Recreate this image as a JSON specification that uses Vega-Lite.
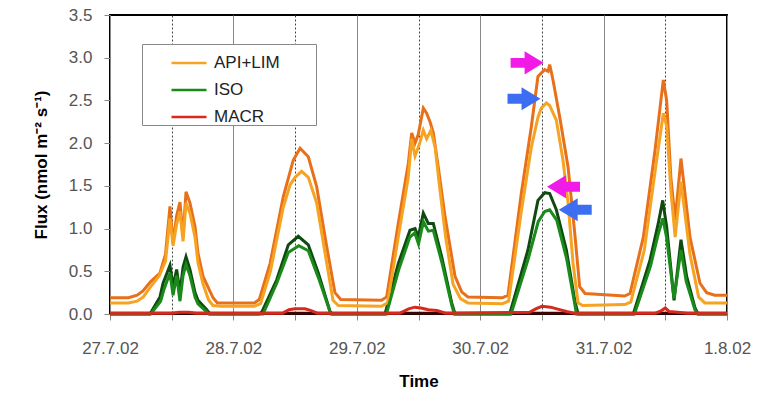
{
"$schema": "https://vega.github.io/schema/vega-lite/v6.json",
"width": 617, "height": 299,
"autosize": "none",
"padding": {"left": 110, "top": 15, "right": 42, "bottom": 82},
"config": {"font": "Liberation Sans", "view": {"stroke": "black", "strokeWidth": 2}},
"datasets": {
"lines": [
{"t":0,"v":0.13,"c":"API+LIM","k":"light"},{"t":0.15,"v":0.13,"c":"API+LIM","k":"light"},{"t":0.22,"v":0.15,"c":"API+LIM","k":"light"},{"t":0.27,"v":0.2,"c":"API+LIM","k":"light"},{"t":0.33,"v":0.32,"c":"API+LIM","k":"light"},{"t":0.40,"v":0.45,"c":"API+LIM","k":"light"},{"t":0.45,"v":0.62,"c":"API+LIM","k":"light"},{"t":0.486,"v":1.12,"c":"API+LIM","k":"light"},{"t":0.511,"v":0.8,"c":"API+LIM","k":"light"},{"t":0.54,"v":1.05,"c":"API+LIM","k":"light"},{"t":0.567,"v":1.2,"c":"API+LIM","k":"light"},{"t":0.592,"v":0.85,"c":"API+LIM","k":"light"},{"t":0.616,"v":1.3,"c":"API+LIM","k":"light"},{"t":0.648,"v":1.18,"c":"API+LIM","k":"light"},{"t":0.689,"v":0.9,"c":"API+LIM","k":"light"},{"t":0.713,"v":0.6,"c":"API+LIM","k":"light"},{"t":0.754,"v":0.35,"c":"API+LIM","k":"light"},{"t":0.80,"v":0.16,"c":"API+LIM","k":"light"},{"t":0.835,"v":0.1,"c":"API+LIM","k":"light"},{"t":0.9,"v":0.09,"c":"API+LIM","k":"light"},{"t":1.17,"v":0.09,"c":"API+LIM","k":"light"},{"t":1.22,"v":0.12,"c":"API+LIM","k":"light"},{"t":1.30,"v":0.5,"c":"API+LIM","k":"light"},{"t":1.404,"v":1.25,"c":"API+LIM","k":"light"},{"t":1.459,"v":1.51,"c":"API+LIM","k":"light"},{"t":1.50,"v":1.6,"c":"API+LIM","k":"light"},{"t":1.553,"v":1.67,"c":"API+LIM","k":"light"},{"t":1.607,"v":1.6,"c":"API+LIM","k":"light"},{"t":1.675,"v":1.3,"c":"API+LIM","k":"light"},{"t":1.756,"v":0.6,"c":"API+LIM","k":"light"},{"t":1.807,"v":0.16,"c":"API+LIM","k":"light"},{"t":1.85,"v":0.1,"c":"API+LIM","k":"light"},{"t":2.2,"v":0.09,"c":"API+LIM","k":"light"},{"t":2.25,"v":0.13,"c":"API+LIM","k":"light"},{"t":2.336,"v":0.9,"c":"API+LIM","k":"light"},{"t":2.417,"v":1.6,"c":"API+LIM","k":"light"},{"t":2.445,"v":2.05,"c":"API+LIM","k":"light"},{"t":2.472,"v":1.85,"c":"API+LIM","k":"light"},{"t":2.51,"v":2.0,"c":"API+LIM","k":"light"},{"t":2.539,"v":2.15,"c":"API+LIM","k":"light"},{"t":2.566,"v":2.05,"c":"API+LIM","k":"light"},{"t":2.60,"v":2.15,"c":"API+LIM","k":"light"},{"t":2.635,"v":1.95,"c":"API+LIM","k":"light"},{"t":2.67,"v":1.5,"c":"API+LIM","k":"light"},{"t":2.72,"v":0.9,"c":"API+LIM","k":"light"},{"t":2.78,"v":0.35,"c":"API+LIM","k":"light"},{"t":2.84,"v":0.18,"c":"API+LIM","k":"light"},{"t":2.9,"v":0.13,"c":"API+LIM","k":"light"},{"t":3.18,"v":0.12,"c":"API+LIM","k":"light"},{"t":3.23,"v":0.15,"c":"API+LIM","k":"light"},{"t":3.333,"v":1.2,"c":"API+LIM","k":"light"},{"t":3.414,"v":1.95,"c":"API+LIM","k":"light"},{"t":3.468,"v":2.3,"c":"API+LIM","k":"light"},{"t":3.495,"v":2.41,"c":"API+LIM","k":"light"},{"t":3.536,"v":2.47,"c":"API+LIM","k":"light"},{"t":3.563,"v":2.44,"c":"API+LIM","k":"light"},{"t":3.617,"v":2.27,"c":"API+LIM","k":"light"},{"t":3.671,"v":1.8,"c":"API+LIM","k":"light"},{"t":3.712,"v":1.3,"c":"API+LIM","k":"light"},{"t":3.752,"v":0.6,"c":"API+LIM","k":"light"},{"t":3.793,"v":0.13,"c":"API+LIM","k":"light"},{"t":3.83,"v":0.1,"c":"API+LIM","k":"light"},{"t":4.17,"v":0.11,"c":"API+LIM","k":"light"},{"t":4.22,"v":0.14,"c":"API+LIM","k":"light"},{"t":4.33,"v":0.75,"c":"API+LIM","k":"light"},{"t":4.42,"v":1.7,"c":"API+LIM","k":"light"},{"t":4.484,"v":2.35,"c":"API+LIM","k":"light"},{"t":4.511,"v":2.2,"c":"API+LIM","k":"light"},{"t":4.545,"v":1.45,"c":"API+LIM","k":"light"},{"t":4.58,"v":0.9,"c":"API+LIM","k":"light"},{"t":4.627,"v":1.55,"c":"API+LIM","k":"light"},{"t":4.70,"v":0.7,"c":"API+LIM","k":"light"},{"t":4.77,"v":0.2,"c":"API+LIM","k":"light"},{"t":4.82,"v":0.13,"c":"API+LIM","k":"light"},{"t":5.0,"v":0.13,"c":"API+LIM","k":"light"},

{"t":0,"v":0.19,"c":"API+LIM","k":"dark"},{"t":0.15,"v":0.19,"c":"API+LIM","k":"dark"},{"t":0.22,"v":0.22,"c":"API+LIM","k":"dark"},{"t":0.267,"v":0.27,"c":"API+LIM","k":"dark"},{"t":0.33,"v":0.38,"c":"API+LIM","k":"dark"},{"t":0.405,"v":0.48,"c":"API+LIM","k":"dark"},{"t":0.45,"v":0.7,"c":"API+LIM","k":"dark"},{"t":0.486,"v":1.26,"c":"API+LIM","k":"dark"},{"t":0.511,"v":0.83,"c":"API+LIM","k":"dark"},{"t":0.54,"v":1.15,"c":"API+LIM","k":"dark"},{"t":0.567,"v":1.31,"c":"API+LIM","k":"dark"},{"t":0.592,"v":0.9,"c":"API+LIM","k":"dark"},{"t":0.616,"v":1.43,"c":"API+LIM","k":"dark"},{"t":0.648,"v":1.3,"c":"API+LIM","k":"dark"},{"t":0.689,"v":1.02,"c":"API+LIM","k":"dark"},{"t":0.713,"v":0.71,"c":"API+LIM","k":"dark"},{"t":0.754,"v":0.44,"c":"API+LIM","k":"dark"},{"t":0.835,"v":0.19,"c":"API+LIM","k":"dark"},{"t":0.87,"v":0.13,"c":"API+LIM","k":"dark"},{"t":1.17,"v":0.13,"c":"API+LIM","k":"dark"},{"t":1.21,"v":0.17,"c":"API+LIM","k":"dark"},{"t":1.297,"v":0.59,"c":"API+LIM","k":"dark"},{"t":1.404,"v":1.37,"c":"API+LIM","k":"dark"},{"t":1.485,"v":1.8,"c":"API+LIM","k":"dark"},{"t":1.54,"v":1.94,"c":"API+LIM","k":"dark"},{"t":1.607,"v":1.84,"c":"API+LIM","k":"dark"},{"t":1.675,"v":1.49,"c":"API+LIM","k":"dark"},{"t":1.756,"v":0.79,"c":"API+LIM","k":"dark"},{"t":1.823,"v":0.25,"c":"API+LIM","k":"dark"},{"t":1.87,"v":0.17,"c":"API+LIM","k":"dark"},{"t":2.2,"v":0.16,"c":"API+LIM","k":"dark"},{"t":2.242,"v":0.2,"c":"API+LIM","k":"dark"},{"t":2.336,"v":1.06,"c":"API+LIM","k":"dark"},{"t":2.417,"v":1.76,"c":"API+LIM","k":"dark"},{"t":2.445,"v":2.12,"c":"API+LIM","k":"dark"},{"t":2.472,"v":2.0,"c":"API+LIM","k":"dark"},{"t":2.498,"v":2.1,"c":"API+LIM","k":"dark"},{"t":2.539,"v":2.41,"c":"API+LIM","k":"dark"},{"t":2.566,"v":2.35,"c":"API+LIM","k":"dark"},{"t":2.593,"v":2.25,"c":"API+LIM","k":"dark"},{"t":2.62,"v":2.12,"c":"API+LIM","k":"dark"},{"t":2.66,"v":1.72,"c":"API+LIM","k":"dark"},{"t":2.715,"v":1.14,"c":"API+LIM","k":"dark"},{"t":2.796,"v":0.44,"c":"API+LIM","k":"dark"},{"t":2.85,"v":0.26,"c":"API+LIM","k":"dark"},{"t":2.9,"v":0.2,"c":"API+LIM","k":"dark"},{"t":3.18,"v":0.19,"c":"API+LIM","k":"dark"},{"t":3.225,"v":0.22,"c":"API+LIM","k":"dark"},{"t":3.333,"v":1.41,"c":"API+LIM","k":"dark"},{"t":3.414,"v":2.19,"c":"API+LIM","k":"dark"},{"t":3.468,"v":2.78,"c":"API+LIM","k":"dark"},{"t":3.523,"v":2.86,"c":"API+LIM","k":"dark"},{"t":3.55,"v":2.84,"c":"API+LIM","k":"dark"},{"t":3.563,"v":2.92,"c":"API+LIM","k":"dark"},{"t":3.59,"v":2.74,"c":"API+LIM","k":"dark"},{"t":3.644,"v":2.31,"c":"API+LIM","k":"dark"},{"t":3.712,"v":1.72,"c":"API+LIM","k":"dark"},{"t":3.766,"v":0.95,"c":"API+LIM","k":"dark"},{"t":3.806,"v":0.32,"c":"API+LIM","k":"dark"},{"t":3.85,"v":0.24,"c":"API+LIM","k":"dark"},{"t":4.17,"v":0.21,"c":"API+LIM","k":"dark"},{"t":4.214,"v":0.24,"c":"API+LIM","k":"dark"},{"t":4.322,"v":0.9,"c":"API+LIM","k":"dark"},{"t":4.417,"v":1.92,"c":"API+LIM","k":"dark"},{"t":4.484,"v":2.74,"c":"API+LIM","k":"dark"},{"t":4.511,"v":2.5,"c":"API+LIM","k":"dark"},{"t":4.545,"v":1.6,"c":"API+LIM","k":"dark"},{"t":4.58,"v":1.1,"c":"API+LIM","k":"dark"},{"t":4.627,"v":1.82,"c":"API+LIM","k":"dark"},{"t":4.70,"v":0.9,"c":"API+LIM","k":"dark"},{"t":4.781,"v":0.36,"c":"API+LIM","k":"dark"},{"t":4.835,"v":0.25,"c":"API+LIM","k":"dark"},{"t":4.9,"v":0.22,"c":"API+LIM","k":"dark"},{"t":5.0,"v":0.22,"c":"API+LIM","k":"dark"},

{"t":0,"v":0,"c":"ISO","k":"dark"},{"t":0.324,"v":0,"c":"ISO","k":"dark"},{"t":0.405,"v":0.2,"c":"ISO","k":"dark"},{"t":0.43,"v":0.36,"c":"ISO","k":"dark"},{"t":0.486,"v":0.57,"c":"ISO","k":"dark"},{"t":0.511,"v":0.32,"c":"ISO","k":"dark"},{"t":0.54,"v":0.52,"c":"ISO","k":"dark"},{"t":0.567,"v":0.25,"c":"ISO","k":"dark"},{"t":0.592,"v":0.55,"c":"ISO","k":"dark"},{"t":0.616,"v":0.67,"c":"ISO","k":"dark"},{"t":0.648,"v":0.52,"c":"ISO","k":"dark"},{"t":0.689,"v":0.25,"c":"ISO","k":"dark"},{"t":0.713,"v":0.16,"c":"ISO","k":"dark"},{"t":0.784,"v":0.05,"c":"ISO","k":"dark"},{"t":0.81,"v":0,"c":"ISO","k":"dark"},{"t":1.21,"v":0,"c":"ISO","k":"dark"},{"t":1.229,"v":0.02,"c":"ISO","k":"dark"},{"t":1.351,"v":0.4,"c":"ISO","k":"dark"},{"t":1.445,"v":0.81,"c":"ISO","k":"dark"},{"t":1.526,"v":0.91,"c":"ISO","k":"dark"},{"t":1.607,"v":0.81,"c":"ISO","k":"dark"},{"t":1.688,"v":0.48,"c":"ISO","k":"dark"},{"t":1.783,"v":0.03,"c":"ISO","k":"dark"},{"t":1.80,"v":0,"c":"ISO","k":"dark"},{"t":2.229,"v":0,"c":"ISO","k":"dark"},{"t":2.336,"v":0.59,"c":"ISO","k":"dark"},{"t":2.431,"v":0.98,"c":"ISO","k":"dark"},{"t":2.472,"v":1.0,"c":"ISO","k":"dark"},{"t":2.498,"v":0.9,"c":"ISO","k":"dark"},{"t":2.539,"v":1.18,"c":"ISO","k":"dark"},{"t":2.579,"v":1.06,"c":"ISO","k":"dark"},{"t":2.62,"v":1.06,"c":"ISO","k":"dark"},{"t":2.688,"v":0.67,"c":"ISO","k":"dark"},{"t":2.769,"v":0.13,"c":"ISO","k":"dark"},{"t":2.796,"v":0,"c":"ISO","k":"dark"},{"t":3.239,"v":0,"c":"ISO","k":"dark"},{"t":3.387,"v":0.75,"c":"ISO","k":"dark"},{"t":3.468,"v":1.33,"c":"ISO","k":"dark"},{"t":3.523,"v":1.42,"c":"ISO","k":"dark"},{"t":3.563,"v":1.41,"c":"ISO","k":"dark"},{"t":3.617,"v":1.22,"c":"ISO","k":"dark"},{"t":3.698,"v":0.75,"c":"ISO","k":"dark"},{"t":3.766,"v":0.16,"c":"ISO","k":"dark"},{"t":3.793,"v":0,"c":"ISO","k":"dark"},{"t":4.241,"v":0,"c":"ISO","k":"dark"},{"t":4.376,"v":0.63,"c":"ISO","k":"dark"},{"t":4.443,"v":1.06,"c":"ISO","k":"dark"},{"t":4.479,"v":1.33,"c":"ISO","k":"dark"},{"t":4.511,"v":1.02,"c":"ISO","k":"dark"},{"t":4.571,"v":0.16,"c":"ISO","k":"dark"},{"t":4.627,"v":0.87,"c":"ISO","k":"dark"},{"t":4.673,"v":0.44,"c":"ISO","k":"dark"},{"t":4.741,"v":0.07,"c":"ISO","k":"dark"},{"t":4.765,"v":0,"c":"ISO","k":"dark"},{"t":5,"v":0,"c":"ISO","k":"dark"},

{"t":0,"v":0,"c":"ISO","k":"light"},{"t":0.33,"v":0,"c":"ISO","k":"light"},{"t":0.41,"v":0.15,"c":"ISO","k":"light"},{"t":0.44,"v":0.3,"c":"ISO","k":"light"},{"t":0.486,"v":0.48,"c":"ISO","k":"light"},{"t":0.511,"v":0.22,"c":"ISO","k":"light"},{"t":0.54,"v":0.45,"c":"ISO","k":"light"},{"t":0.567,"v":0.15,"c":"ISO","k":"light"},{"t":0.592,"v":0.45,"c":"ISO","k":"light"},{"t":0.616,"v":0.58,"c":"ISO","k":"light"},{"t":0.648,"v":0.45,"c":"ISO","k":"light"},{"t":0.689,"v":0.2,"c":"ISO","k":"light"},{"t":0.713,"v":0.12,"c":"ISO","k":"light"},{"t":0.78,"v":0.03,"c":"ISO","k":"light"},{"t":0.8,"v":0,"c":"ISO","k":"light"},{"t":1.24,"v":0,"c":"ISO","k":"light"},{"t":1.351,"v":0.36,"c":"ISO","k":"light"},{"t":1.445,"v":0.72,"c":"ISO","k":"light"},{"t":1.53,"v":0.8,"c":"ISO","k":"light"},{"t":1.607,"v":0.74,"c":"ISO","k":"light"},{"t":1.69,"v":0.42,"c":"ISO","k":"light"},{"t":1.78,"v":0.04,"c":"ISO","k":"light"},{"t":1.79,"v":0,"c":"ISO","k":"light"},{"t":2.24,"v":0,"c":"ISO","k":"light"},{"t":2.34,"v":0.52,"c":"ISO","k":"light"},{"t":2.43,"v":0.9,"c":"ISO","k":"light"},{"t":2.47,"v":0.95,"c":"ISO","k":"light"},{"t":2.50,"v":0.82,"c":"ISO","k":"light"},{"t":2.54,"v":1.08,"c":"ISO","k":"light"},{"t":2.58,"v":0.97,"c":"ISO","k":"light"},{"t":2.62,"v":0.98,"c":"ISO","k":"light"},{"t":2.69,"v":0.6,"c":"ISO","k":"light"},{"t":2.77,"v":0.1,"c":"ISO","k":"light"},{"t":2.79,"v":0,"c":"ISO","k":"light"},{"t":3.25,"v":0,"c":"ISO","k":"light"},{"t":3.39,"v":0.65,"c":"ISO","k":"light"},{"t":3.47,"v":1.08,"c":"ISO","k":"light"},{"t":3.523,"v":1.2,"c":"ISO","k":"light"},{"t":3.563,"v":1.22,"c":"ISO","k":"light"},{"t":3.62,"v":1.1,"c":"ISO","k":"light"},{"t":3.70,"v":0.65,"c":"ISO","k":"light"},{"t":3.766,"v":0.12,"c":"ISO","k":"light"},{"t":3.78,"v":0,"c":"ISO","k":"light"},{"t":4.25,"v":0,"c":"ISO","k":"light"},{"t":4.38,"v":0.56,"c":"ISO","k":"light"},{"t":4.44,"v":0.92,"c":"ISO","k":"light"},{"t":4.48,"v":1.12,"c":"ISO","k":"light"},{"t":4.51,"v":0.9,"c":"ISO","k":"light"},{"t":4.571,"v":0.18,"c":"ISO","k":"light"},{"t":4.627,"v":0.75,"c":"ISO","k":"light"},{"t":4.67,"v":0.38,"c":"ISO","k":"light"},{"t":4.74,"v":0.05,"c":"ISO","k":"light"},{"t":4.76,"v":0,"c":"ISO","k":"light"},{"t":5,"v":0,"c":"ISO","k":"light"},

{"t":0,"v":0.01,"c":"MACR","k":"dark"},{"t":5,"v":0.01,"c":"MACR","k":"dark"},

{"t":0,"v":0.01,"c":"MACR","k":"light"},{"t":0.5,"v":0.01,"c":"MACR","k":"light"},{"t":0.56,"v":0.02,"c":"MACR","k":"light"},{"t":0.64,"v":0.02,"c":"MACR","k":"light"},{"t":0.7,"v":0.01,"c":"MACR","k":"light"},{"t":1.40,"v":0.01,"c":"MACR","k":"light"},{"t":1.45,"v":0.05,"c":"MACR","k":"light"},{"t":1.5,"v":0.06,"c":"MACR","k":"light"},{"t":1.58,"v":0.06,"c":"MACR","k":"light"},{"t":1.63,"v":0.04,"c":"MACR","k":"light"},{"t":1.68,"v":0.01,"c":"MACR","k":"light"},{"t":2.35,"v":0.01,"c":"MACR","k":"light"},{"t":2.42,"v":0.06,"c":"MACR","k":"light"},{"t":2.47,"v":0.08,"c":"MACR","k":"light"},{"t":2.52,"v":0.07,"c":"MACR","k":"light"},{"t":2.58,"v":0.05,"c":"MACR","k":"light"},{"t":2.65,"v":0.04,"c":"MACR","k":"light"},{"t":2.72,"v":0.01,"c":"MACR","k":"light"},{"t":3.40,"v":0.02,"c":"MACR","k":"light"},{"t":3.45,"v":0.06,"c":"MACR","k":"light"},{"t":3.5,"v":0.09,"c":"MACR","k":"light"},{"t":3.57,"v":0.08,"c":"MACR","k":"light"},{"t":3.62,"v":0.06,"c":"MACR","k":"light"},{"t":3.7,"v":0.03,"c":"MACR","k":"light"},{"t":3.76,"v":0.01,"c":"MACR","k":"light"},{"t":4.42,"v":0.01,"c":"MACR","k":"light"},{"t":4.47,"v":0.04,"c":"MACR","k":"light"},{"t":4.5,"v":0.07,"c":"MACR","k":"light"},{"t":4.53,"v":0.03,"c":"MACR","k":"light"},{"t":4.6,"v":0.02,"c":"MACR","k":"light"},{"t":4.68,"v":0.01,"c":"MACR","k":"light"},{"t":5,"v":0.01,"c":"MACR","k":"light"}
],
"arrows": [
{"t":3.38,"v":2.94,"dir":"right","kind":"a"},
{"t":3.355,"v":2.52,"dir":"right","kind":"b"},
{"t":3.675,"v":1.49,"dir":"left","kind":"a"},
{"t":3.77,"v":1.22,"dir":"left","kind":"b"}
]
},
"encoding": {
"x": {"field": "t", "type": "quantitative", "title": "Time",
  "scale": {"domain": [0, 5], "nice": false, "zero": false},
  "axis": {"values": [0,0.5,1,1.5,2,2.5,3,3.5,4,4.5,5],
    "labelExpr": "datum.value % 1 === 0 ? ['27.7.02','28.7.02','29.7.02','30.7.02','31.7.02','1.8.02'][datum.value] : ''",
    "grid": true,
    "gridColor": {"condition": {"test": "datum.value % 1 !== 0", "value": "#444"}, "value": "#888"},
    "gridDash": {"condition": {"test": "datum.value % 1 !== 0", "value": [2, 2]}, "value": []},
    "gridWidth": 1, "domain": false, "tickColor": "#888", "tickSize": 6,
    "labelFontSize": 17, "labelColor": "#555", "labelPadding": 20, "labelFlush": false,
    "titleFontSize": 17, "titleFontWeight": "bold", "titleColor": "black", "titlePadding": 17}},
"y": {"field": "v", "type": "quantitative", "title": "Flux (nmol m⁻² s⁻¹)",
  "scale": {"domain": [0, 3.5], "nice": false},
  "axis": {"values": [0,0.5,1,1.5,2,2.5,3,3.5], "format": ".1f", "grid": false, "domain": false,
    "tickColor": "#888", "tickSize": 6, "labelFontSize": 17, "labelColor": "#555", "labelPadding": 12,
    "titleFontSize": 17, "titleFontWeight": "bold", "titleColor": "black", "titlePadding": 18}}
},
"layer": [
{"data": {"name": "lines"}, "transform": [{"filter": "datum.k == 'dark' && datum.c == 'API+LIM'"}],
 "mark": {"type": "line", "strokeWidth": 3, "color": "#E8701A"}, "encoding": {}},
{"data": {"name": "lines"}, "transform": [{"filter": "datum.k == 'dark' && datum.c == 'ISO'"}],
 "mark": {"type": "line", "strokeWidth": 3, "color": "#0F4A0F"}, "encoding": {}},
{"data": {"name": "lines"}, "transform": [{"filter": "datum.k == 'dark' && datum.c == 'MACR'"}],
 "mark": {"type": "line", "strokeWidth": 3, "color": "#3A0505"}, "encoding": {}},
{"data": {"name": "lines"}, "transform": [{"filter": "datum.k == 'light'"}],
 "mark": {"type": "line", "strokeWidth": 3},
 "encoding": {"color": {"field": "c", "type": "nominal",
   "scale": {"domain": ["API+LIM", "ISO", "MACR"], "range": ["#F5A320", "#1A8A1A", "#D62A1E"]},
   "legend": {"orient": "none", "legendX": 32, "legendY": 29, "title": "\u00a0", "titleOrient": "right", "titlePadding": 36,
     "symbolType": "stroke",
     "symbolStrokeWidth": 2.5, "symbolSize": 1225, "labelFontSize": 17, "labelColor": "#222",
     "strokeColor": "#888", "fillColor": "white", "padding": 0, "rowPadding": -6,
     "symbolOffset": 28, "labelOffset": 6}}}},
{"data": {"name": "arrows"},
 "mark": {"type": "point", "filled": true, "opacity": 1, "size": 1089, "strokeWidth": 0},
 "encoding": {
   "shape": {"field": "dir", "type": "nominal", "legend": null,
     "scale": {"domain": ["right", "left"], "range": ["M -1 -0.3 L -0.15 -0.3 L -0.15 -0.7 L 1 0 L -0.15 0.7 L -0.15 0.3 L -1 0.3 Z", "M 1 -0.3 L 0.15 -0.3 L 0.15 -0.7 L -1 0 L 0.15 0.7 L 0.15 0.3 L 1 0.3 Z"]}},
   "fill": {"field": "kind", "type": "nominal", "legend": null,
     "scale": {"domain": ["a", "b"], "range": ["#F21AE6", "#3D6EF2"]}}}}
]
}
